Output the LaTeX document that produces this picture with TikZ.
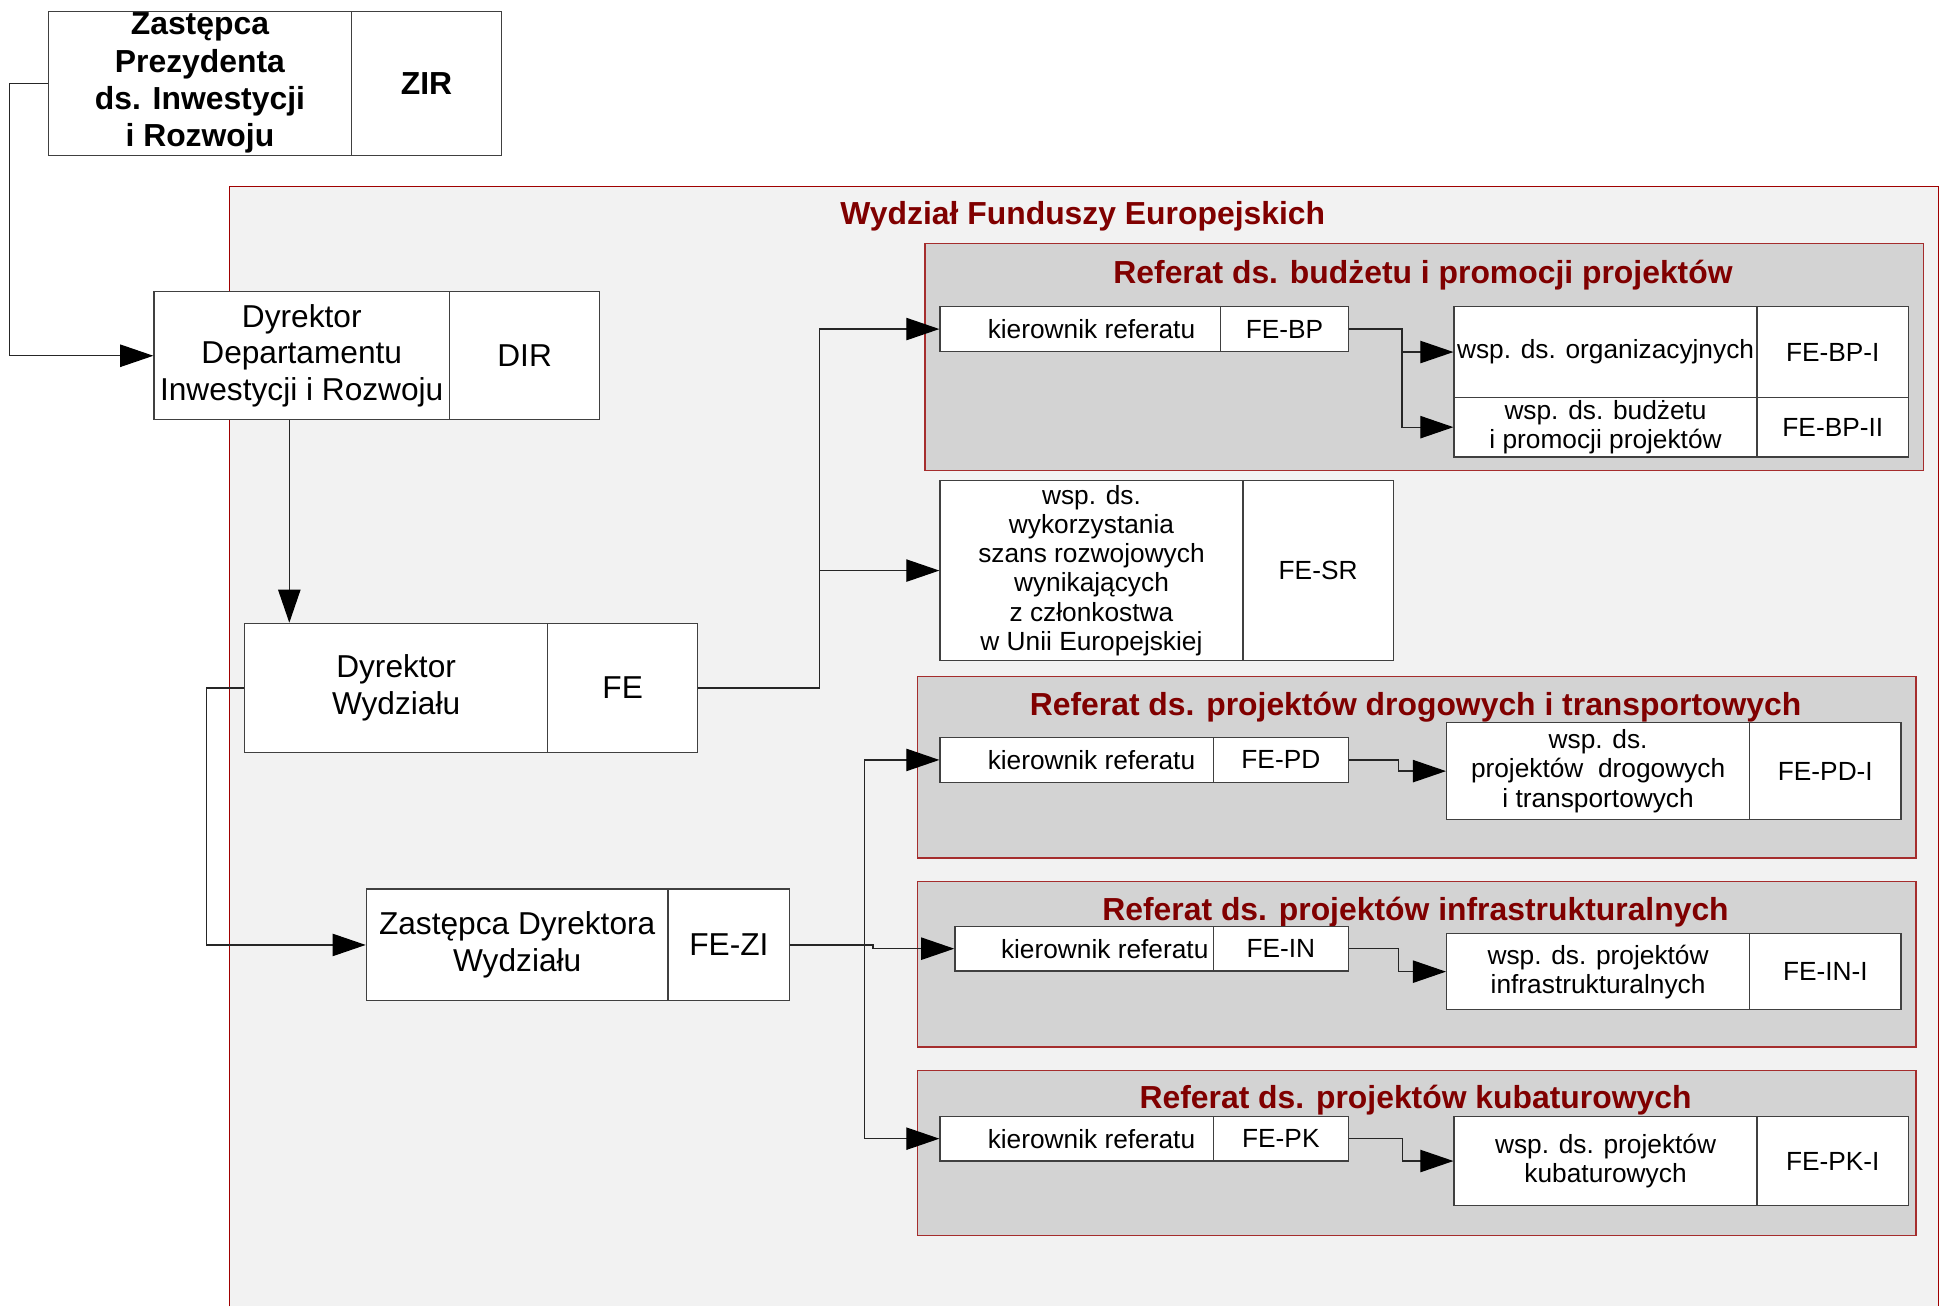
\documentclass[tikz,border=0pt]{standalone}
\usepackage{fontspec}
\setmainfont{Liberation Sans}
\usetikzlibrary{arrows.meta}
\definecolor{outerfill}{HTML}{F2F2F2}
\definecolor{reffill}{HTML}{D3D3D3}
\definecolor{outerborder}{RGB}{160,0,0}
\definecolor{refborder}{RGB}{165,45,45}
\definecolor{titlered}{RGB}{128,0,0}
\newcommand\fbig{\fontsize{15.3}{17.6}\selectfont}
\newcommand\fsmall{\fontsize{12.7}{14.1}\selectfont}
\newcommand\fbold{\fontsize{15.4}{18}\selectfont\bfseries}
\newcommand\cellbox[7][]{\node[cell,minimum width={(#5-#3)*0.6pt},minimum height={(#6-#4)*0.6pt},#1] (#2) at ({(#3+#5)/2},{(#4+#6)/2}) {#7};}
\begin{document}
\begin{tikzpicture}[x=0.6pt,y=-0.6pt,
  cell/.style={draw=black!75, line width=0.6pt, fill=white, inner sep=0pt, align=center, font=\fbig},
  ln/.style={line width=0.6pt, draw=black!85},
  arr/.style={ln, -{Triangle[length=16pt,width=10.8pt,color=black,fill=black]}},
  title/.style={font=\fbold, text=titlered, inner sep=0pt, anchor=base},
  refbox/.style={fill=reffill, draw=refborder, line width=0.7pt}]
\useasboundingbox (0,0) rectangle (1568,1052);
% outer department area
\fill[outerfill] (185,150) rectangle (1561,1052);
\draw[outerborder, line width=0.7pt] (185,1052) -- (185,150) -- (1561,150) -- (1561,1052);
\node[title] (tWFE) at (872,181) {Wydział Funduszy Europejskich};
% referat areas
\draw[refbox] (745,196) rectangle (1549,379);
\draw[refbox] (739,545) rectangle (1543,691);
\draw[refbox] (739,710) rectangle (1543,843);
\draw[refbox] (739,862) rectangle (1543,995);
\node[title] (tBP) at (1146,228) {Referat ds. budżetu i promocji projektów};
\node[title] (tPD) at (1140,576) {Referat ds. projektów drogowych i transportowych};
\node[title] (tIN) at (1140,741) {Referat ds. projektów infrastrukturalnych};
\node[title] (tPK) at (1140,893) {Referat ds. projektów kubaturowych};
% boxes
\cellbox[font=\fbold]{zirL}{39}{9}{283}{125}{\raisebox{-1.5pt}{}Zastępca\\Prezydenta\\ds. Inwestycji\\i Rozwoju}
\cellbox[font=\fbold]{zirR}{283}{9}{404}{125}{ZIR}
\cellbox{dirL}{124}{235}{362}{338}{Dyrektor\\Departamentu\\Inwestycji i Rozwoju}
\cellbox{dirR}{362}{235}{483}{338}{DIR}
\cellbox{feL}{197}{502}{441}{606}{Dyrektor\\Wydziału}
\cellbox{feR}{441}{502}{562}{606}{FE}
\cellbox{ziL}{295}{716}{538}{806}{Zastępca Dyrektora\\Wydziału}
\cellbox{ziR}{538}{716}{636}{806}{FE-ZI}
% BP
\cellbox[font=\fsmall]{bpKL}{757}{247}{983}{283}{\hspace*{10.8pt}kierownik referatu}
\cellbox[font=\fsmall]{bpKR}{983}{247}{1086}{283}{FE-BP}
\cellbox[font=\fsmall]{orgL}{1171}{247}{1415}{320}{wsp. ds. organizacyjnych}
\cellbox[font=\fsmall]{orgR}{1415}{247}{1537}{320}{FE-BP-I}
\cellbox[font=\fsmall]{budL}{1171}{320}{1415}{368}{wsp. ds. budżetu\\i promocji projektów}
\cellbox[font=\fsmall]{budR}{1415}{320}{1537}{368}{FE-BP-II}
% SR
\cellbox[font=\fsmall]{srL}{757}{387}{1001}{532}{wsp. ds.\\wykorzystania\\szans rozwojowych\\wynikających\\z członkostwa\\w Unii Europejskiej}
\cellbox[font=\fsmall]{srR}{1001}{387}{1122}{532}{FE-SR}
% PD
\cellbox[font=\fsmall]{pdKL}{757}{594}{977}{630}{\hspace*{14.4pt}kierownik referatu}
\cellbox[font=\fsmall]{pdKR}{977}{594}{1086}{630}{FE-PD}
\cellbox[font=\fsmall]{pdWL}{1165}{582}{1409}{660}{wsp. ds.\\projektów\ \ drogowych\\i transportowych}
\cellbox[font=\fsmall]{pdWR}{1409}{582}{1531}{660}{FE-PD-I}
% IN
\cellbox[font=\fsmall]{inKL}{769}{746}{977}{782}{\hspace*{20pt}kierownik referatu}
\cellbox[font=\fsmall]{inKR}{977}{746}{1086}{782}{FE-IN}
\cellbox[font=\fsmall]{inWL}{1165}{752}{1409}{813}{wsp. ds. projektów\\infrastrukturalnych}
\cellbox[font=\fsmall]{inWR}{1409}{752}{1531}{813}{FE-IN-I}
% PK
\cellbox[font=\fsmall]{pkKL}{757}{899}{977}{935}{\hspace*{14.4pt}kierownik referatu}
\cellbox[font=\fsmall]{pkKR}{977}{899}{1086}{935}{FE-PK}
\cellbox[font=\fsmall]{pkWL}{1171}{899}{1415}{971}{wsp. ds. projektów\\kubaturowych}
\cellbox[font=\fsmall]{pkWR}{1415}{899}{1537}{971}{FE-PK-I}
% connectors
\draw[arr] (zirL.west) -- ++(-31,0) |- (dirL.west);
\draw[arr] ([xshift=-6pt]dirL.south) -- ([xshift=-6pt]dirL.south |- feL.north);
\draw[arr] (feL.west) -- ++(-30,0) |- (ziL.west);
\coordinate (j1) at (660,554);
\draw[arr] (feR.east) -- (j1) |- (bpKL.west);
\draw[arr] (j1 |- srL.west) -- (srL.west);
\coordinate (j2) at (696,761);
\draw[arr] (ziR.east) -- (j2) |- (pdKL.west);
\draw[arr] (j2) |- (pkKL.west);
\draw[arr] (ziR.east) -- (703,761) |- (inKL.west);
\coordinate (j3) at (1129,265);
\draw[arr] (bpKR.east) -- (j3) |- (orgL.west);
\draw[arr] (j3) |- (budL.west);
\draw[arr] (pdKR.east) -- ++(40,0) |- (pdWL.west);
\draw[arr] (inKR.east) -- ++(40,0) |- (inWL.west);
\draw[arr] (pkKR.east) -- ++(43,0) |- (pkWL.west);
\end{tikzpicture}
\end{document}
